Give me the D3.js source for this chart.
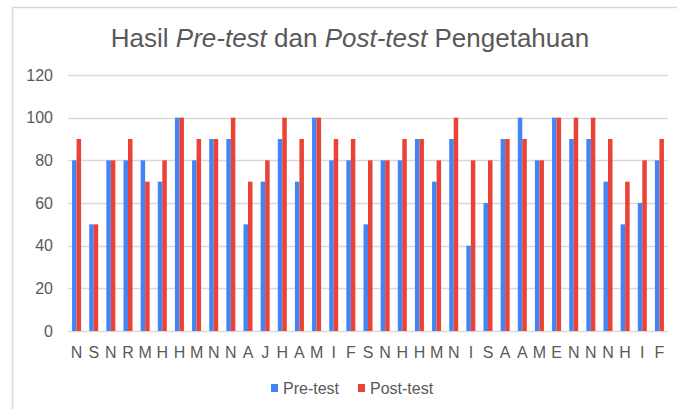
<!DOCTYPE html>
<html>
<head>
<meta charset="utf-8">
<script src="https://cdn.jsdelivr.net/npm/d3@7"></script>
<style>
  body { margin: 0; background: #fff; }
  svg { display: block; font-family: "Liberation Sans", Arial, sans-serif; }
</style>
</head>
<body>
<div id="chart"></div>
<script>
// data
const categories = ["N","S","N","R","M","H","H","M","N","N","A","J","H","A","M","I","F","S","N","H","H","M","N","I","S","A","A","M","E","N","N","N","H","I","F"];
const preTest  = [80,50,80,80,80,70,100,80,90,90,50,70,90,70,100,80,80,50,80,80,90,70,90,40,60,90,100,80,100,90,90,70,50,60,80];
const postTest = [90,50,80,90,70,80,100,90,90,100,70,80,100,90,100,90,90,80,80,90,90,80,100,80,80,90,90,80,100,100,100,90,70,80,90];
const yTicks = [0,20,40,60,80,100,120];
const seriesNames = ["Pre-test","Post-test"];
const seriesColors = ["#4285f4","#ea4335"];

const width = 677, height = 409;
const margin = {top: 75, right: 9, bottom: 78, left: 68};

const svg = d3.select("#chart").append("svg")
  .attr("width", width)
  .attr("height", height);

// outer frame of the chart object
svg.append("rect")
  .attr("x", 12.5).attr("y", 7.5)
  .attr("width", width).attr("height", height)
  .attr("fill", "#fff")
  .attr("stroke", "#d9d9d9")
  .attr("stroke-width", 1.5);

const innerW = width - margin.left - margin.right;
const innerH = 331 - margin.top;

const x = d3.scaleBand().domain(d3.range(categories.length))
  .range([margin.left, margin.left + innerW])
  .paddingInner(0.475).paddingOuter(0.2375);
const xSub = d3.scaleBand().domain([0, 1]).range([0, x.bandwidth()]);
const y = d3.scaleLinear().domain([0, 120]).range([margin.top + innerH, margin.top]);

// gridlines
svg.append("g")
  .selectAll("line")
  .data(yTicks)
  .join("line")
  .attr("x1", margin.left).attr("x2", margin.left + innerW)
  .attr("y1", d => Math.round(y(d)) + 0.5).attr("y2", d => Math.round(y(d)) + 0.5)
  .attr("stroke", "#d9d9d9")
  .attr("stroke-width", 1.5);

// y tick labels
svg.append("g")
  .selectAll("text")
  .data(yTicks)
  .join("text")
  .attr("x", 53)
  .attr("y", d => y(d))
  .attr("dy", "0.35em")
  .attr("text-anchor", "end")
  .attr("font-size", "16px")
  .attr("fill", "#595959")
  .text(d => d);

// bars
const rows = categories.map((c, i) => ({i, vals: [preTest[i], postTest[i]]}));
const groups = svg.append("g")
  .selectAll("g")
  .data(rows)
  .join("g")
  .attr("transform", d => `translate(${x(d.i)},0)`);

groups.selectAll("rect")
  .data(d => d.vals.map((v, k) => ({k, v})))
  .join("rect")
  .attr("x", d => xSub(d.k))
  .attr("y", d => y(d.v))
  .attr("width", xSub.bandwidth())
  .attr("height", d => y(0) - y(d.v))
  .attr("fill", d => seriesColors[d.k]);

// x labels
svg.append("g")
  .selectAll("text")
  .data(categories)
  .join("text")
  .attr("x", (d, i) => x(i) + x.bandwidth() / 2)
  .attr("y", 352)
  .attr("dy", "0.35em")
  .attr("text-anchor", "middle")
  .attr("font-size", "16px")
  .attr("fill", "#595959")
  .text(d => d);

// title
const title = svg.append("text")
  .attr("x", 350)
  .attr("y", 47)
  .attr("text-anchor", "middle")
  .attr("font-size", "26px")
  .attr("fill", "#595959");
title.append("tspan").text("Hasil ");
title.append("tspan").attr("font-style", "italic").text("Pre-test");
title.append("tspan").text(" dan ");
title.append("tspan").attr("font-style", "italic").text("Post-test");
title.append("tspan").text(" Pengetahuan");

// legend
const legend = svg.append("g").attr("transform", "translate(271,388)");
const legendX = [0, 87];
seriesNames.forEach((name, k) => {
  const item = legend.append("g").attr("transform", `translate(${legendX[k]},0)`);
  item.append("rect")
    .attr("x", 0).attr("y", -4)
    .attr("width", 7).attr("height", 8)
    .attr("fill", seriesColors[k]);
  item.append("text")
    .attr("x", 12)
    .attr("y", 0)
    .attr("dy", "0.35em")
    .attr("font-size", "16px")
    .attr("fill", "#595959")
    .text(name);
});
</script>
</body>
</html>
